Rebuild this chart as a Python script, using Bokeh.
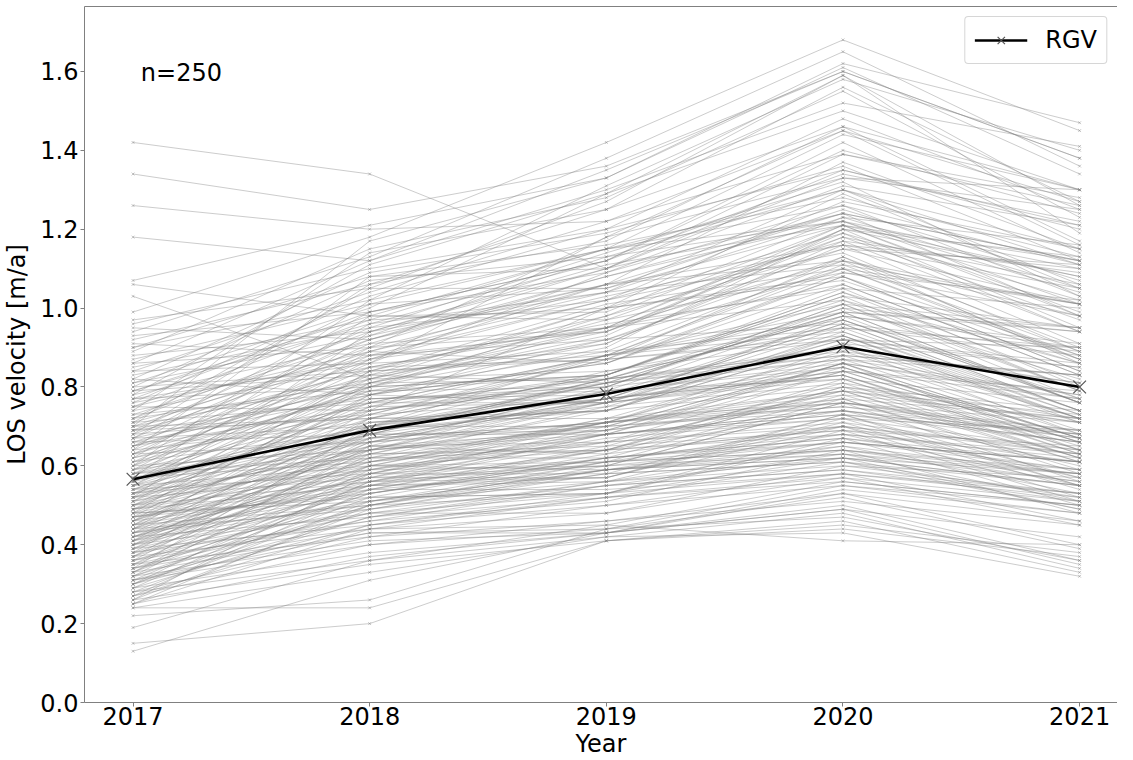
from bokeh.plotting import figure
from bokeh.models import (ColumnDataSource, FixedTicker, PrintfTickFormatter, Legend,
                          LegendItem, Label, LinearAxis, Range1d)
from bokeh.embed import file_html
from bokeh.resources import INLINE

years = [2017, 2018, 2019, 2020, 2021]

v2017 = [1.42, 1.34, 1.26, 1.18, 1.07, 1.06, 1.03,
         0.99, 0.97, 0.96, 0.95, 0.94, 0.93, 0.92, 0.91, 0.90, 0.90,
         0.89, 0.88, 0.87, 0.86, 0.86, 0.85, 0.84, 0.84, 0.83, 0.82, 0.82, 0.81, 0.81, 0.80, 0.80,
         0.79, 0.79, 0.78, 0.78, 0.77, 0.77, 0.76, 0.76, 0.75, 0.75, 0.75, 0.74, 0.74, 0.73, 0.73, 0.72, 0.72, 0.72, 0.71, 0.71, 0.71, 0.70, 0.70, 0.70, 0.70, 0.79, 0.77,
         0.69, 0.69, 0.69, 0.68, 0.68, 0.68, 0.67, 0.67, 0.67, 0.66, 0.66, 0.66, 0.65, 0.65, 0.65, 0.64, 0.64, 0.64, 0.63, 0.63, 0.63, 0.62, 0.62, 0.62, 0.61, 0.61, 0.61, 0.60, 0.60, 0.60, 0.60, 0.69, 0.67, 0.65, 0.63,
         0.59, 0.59, 0.59, 0.58, 0.58, 0.58, 0.57, 0.57, 0.57, 0.56, 0.56, 0.56, 0.55, 0.55, 0.55, 0.54, 0.54, 0.54, 0.53, 0.53, 0.53, 0.52, 0.52, 0.52, 0.52, 0.51, 0.51, 0.51, 0.50, 0.50, 0.50, 0.50, 0.59, 0.58, 0.57, 0.56, 0.55, 0.54, 0.53, 0.52, 0.51, 0.50, 0.58, 0.55, 0.53,
         0.49, 0.49, 0.49, 0.48, 0.48, 0.48, 0.47, 0.47, 0.47, 0.46, 0.46, 0.46, 0.45, 0.45, 0.45, 0.44, 0.44, 0.44, 0.43, 0.43, 0.43, 0.42, 0.42, 0.42, 0.41, 0.41, 0.41, 0.40, 0.40, 0.40, 0.49, 0.48, 0.47, 0.46, 0.45, 0.44, 0.43, 0.42, 0.41, 0.40, 0.49, 0.47, 0.45, 0.43, 0.41, 0.48, 0.46, 0.44, 0.42, 0.40,
         0.39, 0.39, 0.39, 0.38, 0.38, 0.38, 0.37, 0.37, 0.37, 0.36, 0.36, 0.36, 0.35, 0.35, 0.35, 0.34, 0.34, 0.34, 0.33, 0.33, 0.33, 0.32, 0.32, 0.32, 0.31, 0.31, 0.31, 0.30, 0.30, 0.30, 0.39, 0.38, 0.37, 0.36, 0.35, 0.34, 0.33, 0.32, 0.31, 0.30,
         0.29, 0.29, 0.29, 0.28, 0.28, 0.28, 0.27, 0.27, 0.27, 0.26, 0.26, 0.26, 0.25, 0.25, 0.25,
         0.24, 0.24, 0.22, 0.19, 0.15, 0.13]

v2018 = [1.34, 1.25, 1.20, 1.12, 1.21, 0.98, 0.82,
         1.18, 1.05, 1.10, 0.92, 1.13, 0.99, 1.06, 0.88, 1.08, 1.02,
         1.15, 0.94, 1.01, 0.90, 1.12, 0.97, 0.86, 1.04, 0.95, 0.78, 1.09, 0.93, 1.00, 0.84, 1.07,
         0.96, 0.83, 1.11, 0.91, 0.80, 0.99, 0.87, 1.03, 0.89, 0.74, 0.97, 1.14, 0.85, 0.92, 0.79, 0.94, 1.01, 0.81, 0.88, 0.76, 1.05, 0.90, 0.82, 1.17, 0.72, 0.98, 0.86,
         0.84, 0.77, 0.95, 0.73, 1.06, 0.89, 0.80, 0.70, 0.99, 0.85, 0.78, 0.68, 0.93, 0.83, 0.75, 1.08, 0.87, 0.71, 0.82, 0.66, 0.91, 0.79, 0.74, 0.96, 0.69, 0.86, 0.76, 0.80, 0.64, 0.88, 1.02, 0.72, 0.92, 0.81, 0.78,
         0.73, 0.67, 0.90, 0.76, 0.62, 0.85, 0.70, 0.98, 0.64, 0.79, 0.69, 0.83, 0.60, 0.74, 0.87, 0.66, 0.77, 0.58, 0.72, 0.81, 0.63, 0.68, 0.94, 0.57, 0.75, 0.65, 0.84, 0.61, 0.71, 0.56, 0.78, 0.67, 0.80, 0.70, 0.61, 0.89, 0.68, 0.73, 0.59, 0.64, 0.76, 0.62, 0.66, 0.82, 0.69,
         0.63, 0.55, 0.77, 0.60, 0.70, 0.52, 0.65, 0.80, 0.58, 0.67, 0.54, 0.72, 0.61, 0.50, 0.75, 0.57, 0.68, 0.49, 0.63, 0.53, 0.71, 0.59, 0.47, 0.66, 0.56, 0.74, 0.51, 0.62, 0.48, 0.69, 0.59, 0.84, 0.53, 0.64, 0.55, 0.78, 0.50, 0.60, 0.65, 0.54, 0.68, 0.56, 0.70, 0.57, 0.61, 0.51, 0.81, 0.64, 0.55, 0.58,
         0.52, 0.66, 0.45, 0.58, 0.49, 0.72, 0.55, 0.44, 0.62, 0.51, 0.67, 0.46, 0.57, 0.42, 0.64, 0.53, 0.48, 0.70, 0.55, 0.43, 0.60, 0.50, 0.41, 0.63, 0.47, 0.56, 0.40, 0.52, 0.45, 0.59, 0.60, 0.46, 0.68, 0.54, 0.48, 0.44, 0.65, 0.53, 0.43, 0.50,
         0.47, 0.38, 0.56, 0.42, 0.51, 0.36, 0.45, 0.54, 0.40, 0.49, 0.35, 0.58, 0.44, 0.37, 0.50,
         0.24, 0.33, 0.26, 0.36, 0.20, 0.31]

v2019 = [1.10, 1.36, 1.22, 1.30, 1.33, 1.15, 0.95,
         1.42, 1.27, 1.20, 1.08, 1.38, 1.12, 1.25, 1.02, 1.16, 1.31,
         1.28, 1.10, 1.05, 1.18, 1.35, 1.00, 1.09, 1.22, 1.14, 0.92, 1.19, 1.06, 1.29, 0.98, 1.13,
         1.04, 1.00, 1.29, 0.95, 0.95, 1.12, 1.06, 1.20, 1.06, 0.82, 1.15, 1.25, 0.96, 1.06, 0.89, 1.11, 1.15, 0.97, 0.92, 0.88, 1.05, 1.04, 1.00, 1.33, 0.87, 0.97, 1.18,
         1.01, 0.80, 1.02, 0.87, 1.17, 1.03, 0.83, 0.81, 1.09, 0.95, 0.90, 0.81, 1.13, 0.81, 0.88, 1.10, 1.02, 0.74, 0.94, 0.79, 1.08, 0.80, 1.00, 1.12, 0.81, 0.89, 0.88, 0.98, 0.76, 0.94, 1.15, 0.83, 1.10, 0.92, 0.86,
         0.77, 0.77, 0.94, 0.76, 0.75, 0.87, 0.84, 0.99, 0.79, 0.83, 0.82, 0.91, 0.71, 0.81, 0.95, 0.76, 0.78, 0.71, 0.83, 0.82, 0.74, 0.82, 1.04, 0.70, 0.76, 0.80, 0.88, 0.72, 0.74, 0.68, 0.86, 0.77, 0.83, 0.88, 0.71, 0.86, 0.82, 0.88, 0.68, 0.77, 0.82, 0.71, 0.70, 0.84, 0.74,
         0.76, 0.56, 0.79, 0.72, 0.77, 0.62, 0.63, 0.91, 0.68, 0.71, 0.65, 0.72, 0.68, 0.61, 0.83, 0.67, 0.68, 0.59, 0.65, 0.62, 0.77, 0.66, 0.56, 0.71, 0.66, 0.80, 0.59, 0.62, 0.56, 0.75, 0.71, 0.87, 0.62, 0.69, 0.68, 0.76, 0.60, 0.64, 0.69, 0.64, 0.69, 0.60, 0.79, 0.60, 0.66, 0.61, 0.93, 0.70, 0.57, 0.69,
         0.53, 0.77, 0.53, 0.58, 0.58, 0.74, 0.62, 0.45, 0.64, 0.59, 0.71, 0.55, 0.57, 0.50, 0.68, 0.61, 0.48, 0.70, 0.64, 0.43, 0.61, 0.59, 0.43, 0.64, 0.55, 0.57, 0.46, 0.53, 0.52, 0.60, 0.59, 0.51, 0.76, 0.54, 0.53, 0.52, 0.66, 0.63, 0.44, 0.58,
         0.52, 0.43, 0.64, 0.46, 0.56, 0.42, 0.50, 0.59, 0.44, 0.55, 0.41, 0.61, 0.48, 0.43, 0.53,
         0.41, 0.42, 0.44, 0.45, 0.41, 0.43]

v2020 = [1.24, 1.60, 1.45, 1.52, 1.62, 1.30, 1.12,
         1.68, 1.59, 1.35, 1.22, 1.65, 1.40, 1.46, 1.19, 1.28, 1.58,
         1.55, 1.33, 1.21, 1.45, 1.60, 1.17, 1.26, 1.39, 1.32, 1.10, 1.36, 1.24, 1.50, 1.15, 1.30,
         1.23, 1.08, 1.59, 1.20, 1.02, 1.34, 1.12, 1.48, 1.16, 0.98, 1.22, 1.56, 1.05, 1.37, 0.95, 1.21, 1.44, 1.09, 1.13, 0.99, 1.25, 1.11, 1.29, 1.61, 0.92, 1.18, 1.33,
         1.10, 1.00, 1.27, 0.93, 1.46, 1.16, 1.04, 0.87, 1.31, 1.06, 1.20, 0.90, 1.22, 0.99, 0.97, 1.39, 1.14, 0.91, 1.18, 0.85, 1.24, 1.01, 1.07, 1.42, 0.88, 1.12, 0.94, 1.21, 0.84, 1.15, 1.26, 1.03, 1.35, 0.96, 1.09,
         0.96, 0.83, 1.19, 0.92, 0.81, 1.13, 0.95, 1.23, 0.86, 1.02, 0.88, 1.17, 0.78, 0.99, 1.21, 0.82, 0.97, 0.76, 1.05, 1.00, 0.80, 0.89, 1.30, 0.74, 0.93, 0.87, 1.10, 0.79, 0.91, 0.73, 1.08, 0.84, 1.04, 1.01, 0.77, 1.06, 0.90, 1.11, 0.72, 0.85, 0.98, 0.75, 0.86, 0.92, 0.94,
         0.83, 0.70, 0.99, 0.76, 0.96, 0.68, 0.80, 1.16, 0.73, 0.87, 0.69, 0.89, 0.74, 0.66, 1.03, 0.72, 0.84, 0.64, 0.81, 0.67, 0.97, 0.71, 0.62, 0.88, 0.70, 1.01, 0.65, 0.78, 0.60, 0.92, 0.79, 1.08, 0.66, 0.85, 0.74, 0.95, 0.63, 0.79, 0.86, 0.68, 0.77, 0.76, 0.82, 0.66, 0.84, 0.64, 1.20, 0.75, 0.73, 0.76,
         0.66, 0.83, 0.58, 0.73, 0.61, 0.93, 0.67, 0.56, 0.80, 0.63, 0.90, 0.59, 0.71, 0.55, 0.86, 0.64, 0.60, 0.86, 0.69, 0.54, 0.77, 0.62, 0.53, 0.82, 0.59, 0.72, 0.51, 0.67, 0.56, 0.76, 0.62, 0.64, 0.98, 0.58, 0.69, 0.57, 0.79, 0.70, 0.55, 0.61,
         0.61, 0.50, 0.74, 0.53, 0.65, 0.48, 0.58, 0.68, 0.52, 0.63, 0.46, 0.70, 0.57, 0.49, 0.62,
         0.45, 0.43, 0.47, 0.41, 0.44, 0.49]

v2021 = [1.12, 1.38, 1.27, 1.41, 1.47, 1.15, 0.98,
         1.45, 1.26, 1.21, 1.10, 1.36, 1.24, 1.30, 1.02, 1.13, 1.40,
         1.23, 1.25, 1.12, 1.16, 1.38, 1.09, 1.11, 1.28, 1.03, 1.01, 1.12, 1.12, 1.30, 1.11, 1.11,
         1.16, 0.88, 1.19, 1.13, 0.86, 1.22, 0.87, 1.25, 1.10, 0.91, 1.04, 1.27, 1.00, 1.15, 0.90, 0.98, 1.30, 1.02, 0.90, 0.95, 1.07, 1.01, 1.05, 1.34, 0.90, 0.97, 1.30,
         0.88, 0.94, 1.15, 0.73, 1.17, 1.05, 0.81, 0.83, 1.21, 0.83, 1.08, 0.72, 1.01, 0.94, 0.76, 1.26, 0.89, 0.85, 1.06, 0.67, 0.98, 0.95, 0.87, 1.14, 0.83, 1.01, 0.74, 0.99, 0.79, 1.01, 1.03, 0.95, 1.20, 0.74, 0.98,
         0.89, 0.64, 0.94, 0.86, 0.72, 0.86, 0.88, 1.05, 0.78, 0.79, 0.83, 0.94, 0.72, 0.76, 1.08, 0.76, 0.76, 0.71, 0.80, 0.82, 0.74, 0.81, 1.06, 0.68, 0.71, 0.78, 0.87, 0.73, 0.72, 0.68, 0.84, 0.77, 0.86, 0.77, 0.72, 0.83, 0.81, 0.89, 0.69, 0.66, 0.90, 0.69, 0.67, 0.85, 0.73,
         0.65, 0.64, 0.76, 0.69, 0.74, 0.63, 0.71, 0.91, 0.66, 0.68, 0.65, 0.71, 0.66, 0.61, 0.79, 0.64, 0.66, 0.59, 0.62, 0.61, 0.77, 0.63, 0.58, 0.69, 0.63, 0.79, 0.58, 0.61, 0.57, 0.72, 0.71, 0.84, 0.61, 0.67, 0.66, 0.74, 0.58, 0.62, 0.77, 0.62, 0.58, 0.68, 0.63, 0.61, 0.66, 0.58, 0.95, 0.67, 0.55, 0.67,
         0.59, 0.63, 0.53, 0.57, 0.55, 0.72, 0.59, 0.50, 0.62, 0.56, 0.68, 0.53, 0.54, 0.50, 0.67, 0.56, 0.53, 0.64, 0.61, 0.48, 0.59, 0.55, 0.46, 0.64, 0.51, 0.55, 0.45, 0.50, 0.50, 0.56, 0.55, 0.48, 0.76, 0.52, 0.51, 0.51, 0.61, 0.52, 0.48, 0.52,
         0.49, 0.36, 0.60, 0.40, 0.53, 0.34, 0.46, 0.55, 0.39, 0.51, 0.33, 0.57, 0.45, 0.35, 0.49,
         0.38, 0.32, 0.36, 0.40, 0.37, 0.42]

rgv = [0.566, 0.690, 0.782, 0.902, 0.800]

y_ticks = [0.0, 0.2, 0.4, 0.6, 0.8, 1.0, 1.2, 1.4, 1.6]
sample_note = "n=250"
legend_text = "RGV"
x_title = "Year"
y_title = "LOS velocity [m/a]"

FONT = "DejaVu Sans"

n = min(len(v2017), len(v2018), len(v2019), len(v2020), len(v2021))
rows = [[v2017[i], v2018[i], v2019[i], v2020[i], v2021[i]] for i in range(n)]

p = figure(width=1117, height=760,
           x_range=Range1d(2016.795, 2021.160), y_range=Range1d(0.0, 1.7647),
           output_backend="svg", toolbar_location=None,
           min_border_left=76, min_border_right=0, min_border_top=6, min_border_bottom=58)
p.background_fill_color = "white"
p.border_fill_color = "white"
p.outline_line_color = None
p.xgrid.visible = False
p.ygrid.visible = False

src = ColumnDataSource(dict(xs=[years for _ in rows], ys=rows))
p.multi_line(xs="xs", ys="ys", source=src, line_color="gray", line_alpha=0.4, line_width=1)
pts_x = [yr for r in rows for yr in years]
pts_y = [v for r in rows for v in r]
p.scatter(pts_x, pts_y, marker="x", size=4, line_color="gray", line_alpha=0.45, line_width=1)

rgv_line = p.line(years, rgv, line_color="black", line_width=2.6)
rgv_pts = p.scatter(years, rgv, marker="x", size=18, line_color="#555555", line_width=1.2)

for ax in (p.xaxis[0], p.yaxis[0]):
    ax.axis_line_color = "#808080"
    ax.axis_line_width = 1
    ax.major_tick_line_color = "#808080"
    ax.major_tick_out = 4
    ax.major_tick_in = 0
    ax.minor_tick_out = 0
    ax.minor_tick_in = 0
    ax.major_label_text_font = FONT
    ax.major_label_text_font_size = "24px"
    ax.major_label_text_color = "black"
    ax.axis_label_text_font = FONT
    ax.axis_label_text_font_size = "24px"
    ax.axis_label_text_font_style = "normal"
    ax.axis_label_text_color = "black"

p.xaxis[0].ticker = FixedTicker(ticks=years)
p.xaxis[0].formatter = PrintfTickFormatter(format="%d")
p.xaxis[0].major_label_standoff = 0
p.xaxis[0].axis_label = x_title
p.xaxis[0].axis_label_standoff = 2

p.yaxis[0].ticker = FixedTicker(ticks=y_ticks)
p.yaxis[0].formatter = PrintfTickFormatter(format="%.1f")
p.yaxis[0].major_label_standoff = 2
p.yaxis[0].axis_label = y_title
p.yaxis[0].axis_label_standoff = 6

top_axis = LinearAxis(ticker=FixedTicker(ticks=[]), axis_line_color="#808080",
                      major_tick_out=0, major_tick_in=0, minor_tick_out=0, minor_tick_in=0,
                      major_label_standoff=0, major_label_text_font_size="0px")
p.add_layout(top_axis, "above")

p.add_layout(Label(x=2017.033, y=1.597, text=sample_note, text_font=FONT, text_font_size="24px",
                   text_align="left", text_baseline="middle", text_color="black"))

legend = Legend(items=[LegendItem(label=legend_text, renderers=[rgv_line, rgv_pts])],
                location="top_right", margin=10, padding=9, spacing=0,
                glyph_width=53, glyph_height=26, label_standoff=18,
                label_text_font=FONT, label_text_font_size="24px", label_text_color="black",
                border_line_color="#cccccc", border_line_alpha=0.8,
                background_fill_color="white", background_fill_alpha=0.8)
if "border_radius" in Legend.properties():
    legend.border_radius = 4
p.add_layout(legend)

open("out.html", "w").write(file_html(p, INLINE))
